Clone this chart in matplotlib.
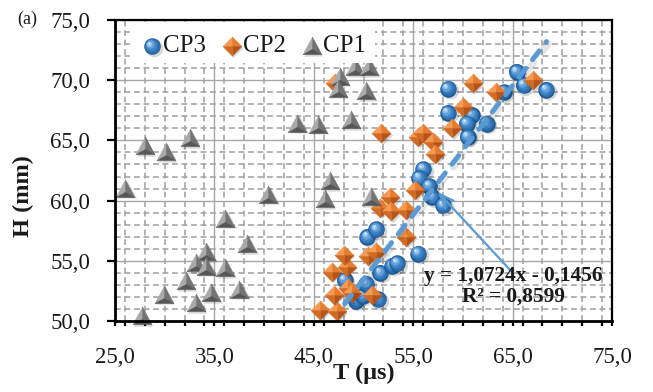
import numpy as np
import matplotlib
matplotlib.use("Agg")
import matplotlib.pyplot as plt
from matplotlib.path import Path
from matplotlib.transforms import ScaledTranslation
from matplotlib.ticker import MultipleLocator, FuncFormatter
from matplotlib.patches import Rectangle

# ---------------- data ----------------
cp3_T = [48.1, 49.2, 49.9, 51.5, 50.3, 51.7, 52.9, 53.4, 55.5, 50.4, 51.3,
         56.0, 55.6, 56.6, 56.9, 58.0,
         58.5, 60.9, 60.4, 62.4, 60.5, 58.5, 65.4, 66.1, 68.4, 64.1]
cp3_H = [53.4, 51.7, 52.1, 51.8, 53.1, 54.0, 54.6, 54.8, 55.6, 57.0, 57.6,
         62.6, 61.9, 61.2, 60.3, 59.6,
         67.3, 67.1, 66.4, 66.4, 65.3, 69.3, 70.7, 69.6, 69.2, 69.0]
cp2_T = [47.1, 45.6, 47.3, 47.0, 48.4, 48.8, 50.9, 46.8, 48.3, 48.0, 50.5, 51.3, 54.3,
         52.7, 51.7, 52.8, 54.3, 55.2,
         51.8, 55.5, 56.0, 57.0, 57.2, 58.9, 60.0, 61.0, 63.3, 67.1]
cp2_H = [69.8, 50.9, 50.8, 52.2, 52.7, 52.3, 52.2, 54.1, 54.5, 55.5, 55.4, 55.7, 57.0,
         60.3, 59.4, 59.1, 59.2, 60.9,
         65.6, 65.3, 65.6, 64.9, 63.9, 66.0, 67.8, 69.75, 69.05, 70.0]
cp1_T = [26.0, 28.0, 30.1, 32.5, 40.4, 36.1, 38.3, 34.2, 33.1, 34.2, 36.1, 32.1,
         29.9, 34.7, 37.5, 33.1, 27.7,
         47.6, 49.1, 50.6, 47.4, 50.3, 43.3, 45.4, 48.7, 46.6, 46.1, 50.8]
cp1_H = [61.0, 64.5, 64.0, 65.2, 60.5, 58.5, 56.4, 55.7, 54.8, 54.5, 54.4, 53.3,
         52.2, 52.3, 52.6, 51.5, 50.4,
         70.3, 71.1, 71.1, 69.3, 69.1, 66.4, 66.3, 66.7, 61.6, 60.1, 60.3]
series_names = ["CP3", "CP2", "CP1"]
trend_slope = 1.0724
trend_intercept = -0.1456
trend_r2 = 0.8599
x_ticks = [25, 35, 45, 55, 65, 75]
y_ticks = [50, 55, 60, 65, 70, 75]

# ---------------- style ----------------
plt.rcParams['font.family'] = ['Liberation Serif', 'DejaVu Serif']

fig = plt.figure(figsize=(6.53, 3.92), dpi=100)
ax = fig.add_axes([115/653, 1-321/392, 497/653, 301/392])


def comma(v, p=None):
    return f"{v:.1f}".replace('.', ',')


def poly(verts):
    v = list(verts) + [verts[0]]
    codes = [Path.MOVETO] + [Path.LINETO] * (len(verts) - 1) + [Path.CLOSEPOLY]
    return Path(v, codes)


# diamond facets
D_TL = poly([(0, 0), (-1, 0), (0, 1)])
D_TR = poly([(0, 0), (0, 1), (1, 0)])
D_BR = poly([(0, 0), (1, 0), (0, -1)])
D_BL = poly([(0, 0), (0, -1), (-1, 0)])
D_ALL = poly([(0, 1), (1, 0), (0, -1), (-1, 0)])
# triangle facets
tc = (0, -0.3)
T_L = poly([tc, (0, 1), (-1, -0.85)])
T_R = poly([tc, (1, -0.85), (0, 1)])
T_B = poly([tc, (-1, -0.85), (1, -0.85)])
T_ALL = poly([(0, 1), (-1, -0.85), (1, -0.85)])

# (marker, size_px, color, dx_px, dy_px, edge_lw)
sphere_layers = [
    ('o', 17.5, (0, 0, 0, 0.16), 1.6, -1.6, 0),
    ('o', 16.5, '#1D5A93', 0, 0, 0),
    ('o', 15.0, '#2C6DAE', -0.4, 0.5, 0),
    ('o', 12.0, '#3F83C6', -1.0, 1.2, 0),
    ('o', 8.6, '#64A2DB', -1.8, 2.1, 0),
    ('o', 4.9, '#9FC9EE', -2.5, 2.9, 0),
    ('o', 2.0, '#E2F0FB', -2.9, 3.4, 0),
]
diamond_layers = [
    (D_ALL, 19, (0, 0, 0, 0.16), 1.6, -1.6, 0),
    (D_TL, 19, '#F49A52', 0, 0, 0.3),
    (D_TR, 19, '#E97C2C', 0, 0, 0.3),
    (D_BR, 19, '#B5541A', 0, 0, 0.3),
    (D_BL, 19, '#D36A22', 0, 0, 0.3),
]
triangle_layers = [
    (T_ALL, 19, (0, 0, 0, 0.16), 1.6, -1.6, 0),
    (T_L, 19, '#A9A9A9', 0, 0, 0.3),
    (T_R, 19, '#737373', 0, 0, 0.3),
    (T_B, 19, '#565656', 0, 0, 0.3),
]


def draw_marker(x, y, layers, z, base):
    for marker, size_px, color, dx, dy, lw in layers:
        tr = base + ScaledTranslation(dx * 0.72 / 72, dy * 0.72 / 72, fig.dpi_scale_trans)
        ax.scatter([x], [y], marker=marker, s=(size_px * 0.72) ** 2, c=[color],
                   edgecolors=[color], linewidths=lw, transform=tr, zorder=z,
                   clip_on=False)


for xv, yv in zip(cp3_T, cp3_H):
    draw_marker(xv, yv, sphere_layers, 3, ax.transData)
for xv, yv in zip(cp2_T, cp2_H):
    draw_marker(xv, yv, diamond_layers, 4, ax.transData)
for xv, yv in zip(cp1_T, cp1_H):
    draw_marker(xv, yv, triangle_layers, 5, ax.transData)

# trendline (linear, CP3)
xf = np.array([min(cp3_T), max(cp3_T)])
yf = trend_slope * xf + trend_intercept
sh = ax.transData + ScaledTranslation(2 * 0.72 / 72, -2 * 0.72 / 72, fig.dpi_scale_trans)
ax.plot(xf, yf, color=(0, 0, 0, 0.10), lw=5, transform=sh, zorder=6,
        linestyle=(0, (2.2, 2.0)), dash_capstyle='round')
ax.plot(xf, yf, color='#5B9BD5', lw=3.6, zorder=6.5,
        linestyle=(0, (2.2, 2.2)), dash_capstyle='round')

# equation annotation
eq = (f"y = {trend_slope:.4f}x - {abs(trend_intercept):.4f}".replace('.', ',') + "\n" +
      f"R² = {trend_r2:.4f}".replace('.', ','))
ax.annotate('', xy=(57.5, 60.7), xytext=(64.9, 54.1),
            arrowprops=dict(arrowstyle='->,head_length=1.0,head_width=0.4',
                            color='#5B9BD5', lw=1.6, shrinkA=0, shrinkB=0),
            zorder=7)
ax.text(65.1, 52.85, eq, ha='center', va='center', fontsize=15.3,
        fontweight='bold', linespacing=1.05, color='#1a1a1a', zorder=7)

# axes, grid, ticks
ax.set_xlim(25, 75)
ax.set_ylim(50, 75)
ax.xaxis.set_minor_locator(MultipleLocator(2))
ax.yaxis.set_minor_locator(MultipleLocator(1))
ax.set_xticks(x_ticks)
ax.set_yticks(y_ticks)
ax.xaxis.set_major_formatter(FuncFormatter(comma))
ax.yaxis.set_major_formatter(FuncFormatter(comma))
ax.grid(which='major', color='#A6A6A6', lw=1.0, linestyle='-')
ax.grid(which='minor', color='#A6A6A6', lw=1.2, linestyle=(0, (3.5, 2.2)))
ax.set_axisbelow(True)
ax.tick_params(axis='x', which='both', direction='out', length=3.8, width=1.6,
               pad=15, labelsize=16.5, color='black', labelcolor='#1a1a1a')
ax.tick_params(axis='y', which='major', direction='out', length=5.8, width=1.6,
               pad=12, labelsize=16.5, color='black', labelcolor='#1a1a1a')
ax.tick_params(axis='y', which='minor', length=0)
for s in ['left', 'bottom']:
    ax.spines[s].set_linewidth(2.0)
for s in ['top', 'right']:
    ax.spines[s].set_linewidth(1.6)
for s in ax.spines.values():
    s.set_color('black')
    s.set_zorder(9)

ax.set_xlabel("T (μs)", fontsize=17.5, fontweight='bold', color='#1a1a1a')
ax.set_ylabel("H (mm)", fontsize=17.5, fontweight='bold', color='#1a1a1a')
ax.xaxis.set_label_coords(0.5, -0.138)
ax.yaxis.set_label_coords(-0.162, 0.414)

# legend (manual, white box, no frame)
ax.add_patch(Rectangle((0.030, 0.857), 0.493, 0.137, transform=ax.transAxes,
                       facecolor='white', edgecolor='none', zorder=8))
leg_layers = [sphere_layers, diamond_layers, triangle_layers]
leg_mx = [0.0744, 0.235, 0.396]
for name, layers, mx in zip(series_names, leg_layers, leg_mx):
    draw_marker(mx, 0.912, layers, 8.5, ax.transAxes)
    ax.text(mx + 0.022, 0.912, name, transform=ax.transAxes, fontsize=18,
            ha='left', va='center', color='#1a1a1a', zorder=8.6)

fig.text(17/653, 1 - 19/392, "(a)", fontsize=13, ha='left', va='center', color='#1a1a1a')

fig.savefig("out.png", dpi=100)
